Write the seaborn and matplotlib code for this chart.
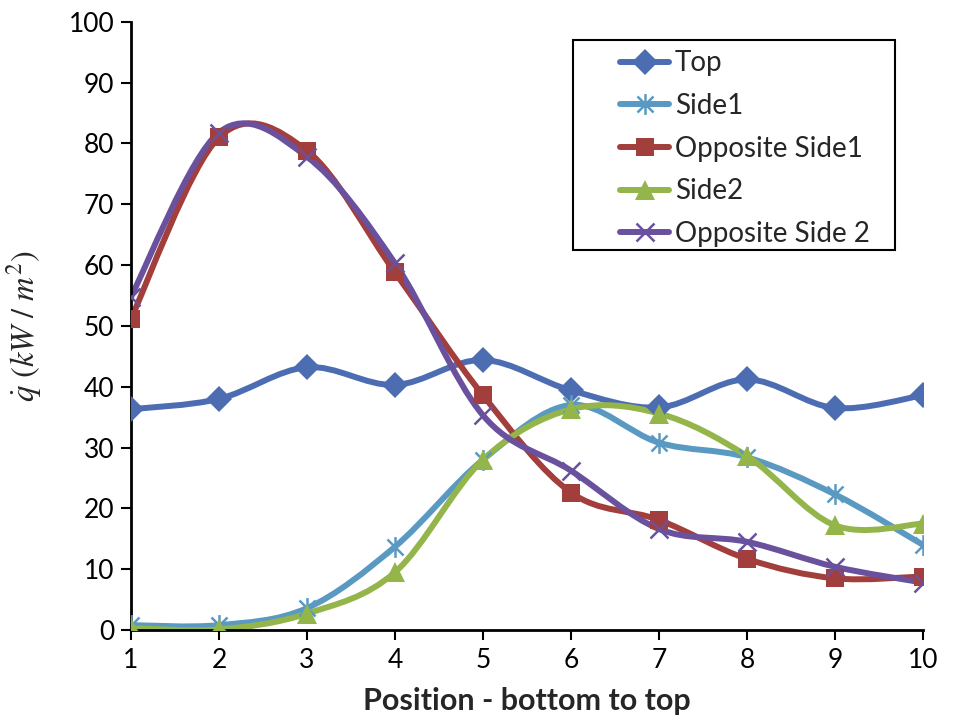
import numpy as np
import matplotlib
matplotlib.use('Agg')
import matplotlib.pyplot as plt
from matplotlib.path import Path
from matplotlib.patches import PathPatch, Rectangle
from matplotlib.lines import Line2D
import seaborn as sns

# Werte
positions = [1, 2, 3, 4, 5, 6, 7, 8, 9, 10]
top = [36.3, 38.0, 43.2, 40.3, 44.4, 39.4, 36.6, 41.2, 36.5, 38.6]
side1 = [0.8, 0.8, 3.6, 13.7, 28.0, 37.0, 30.8, 28.4, 22.3, 14.0]
opp_side1 = [51.2, 81.0, 78.8, 58.8, 38.6, 22.6, 18.1, 11.7, 8.5, 8.8]
side2 = [0.3, 0.1, 2.7, 9.5, 28.0, 36.3, 35.6, 28.6, 17.2, 17.5]
opp_side2 = [54.8, 81.8, 77.8, 60.3, 35.3, 26.2, 16.6, 14.5, 10.4, 7.8]
names = ['Top', 'Side1', 'Opposite Side1', 'Side2', 'Opposite Side 2']

# Sternchen-Marker wie in Excel (X mit senkrechtem Strich)
star = Path([(-1, -1), (1, 1), (-1, 1), (1, -1), (0, -1.3), (0, 1.3)],
            [Path.MOVETO, Path.LINETO, Path.MOVETO, Path.LINETO, Path.MOVETO, Path.LINETO])

series = [
    (top, '#4D6DB3', 'D', 13),
    (side1, '#5A9AC2', star, 15),
    (opp_side1, '#A23E3C', 's', 13),
    (side2, '#94B54A', '^', 14),
    (opp_side2, '#6A519E', 'x', 13),
]

sns.set_style('white')
plt.rcParams['font.family'] = ['Lato', 'DejaVu Sans']
plt.rcParams['mathtext.fontset'] = 'stix'

fig = plt.figure(figsize=(9.56, 7.25), dpi=100)
ax = fig.add_axes([0.137, 0.131, 0.8285, 0.8389])


def smooth_path(xs, ys):
    # Bezier-Glaettung wie Excel (Kontrollpunkte nach Catmull-Rom)
    p = np.column_stack([xs, ys]).astype(float)
    n = len(p)
    verts = [p[0]]
    codes = [Path.MOVETO]
    for i in range(n - 1):
        p0 = p[i - 1] if i > 0 else p[i]
        p3 = p[i + 2] if i + 2 < n else p[i + 1]
        c1 = p[i] + (p[i + 1] - p0) / 6
        c2 = p[i + 1] - (p3 - p[i]) / 6
        verts += [c1, c2, p[i + 1]]
        codes += [Path.CURVE4] * 3
    return Path(verts, codes)


handles = []
for (vals, col, mk, ms), name in zip(series, names):
    ax.add_patch(PathPatch(smooth_path(positions, vals), fill=False, edgecolor=col,
                           lw=4.3, capstyle='round', joinstyle='round', zorder=2))
    line_mk = mk in ('x',) or mk is star
    sns.lineplot(x=positions, y=vals, ax=ax, color=col, marker=mk, markersize=ms,
                 linestyle='', markeredgewidth=1.8 if line_mk else 0,
                 markeredgecolor=col, zorder=3)
    handles.append(Line2D([], [], color=col, lw=4.3, marker=mk, markersize=ms,
                          markeredgewidth=1.8 if line_mk else 0, markeredgecolor=col,
                          solid_capstyle='round'))

ax.set_xlim(1, 10)
ax.set_ylim(0, 100)
ax.set_xticks(positions)
ax.set_yticks(range(0, 101, 10))
ax.tick_params(axis='both', labelsize=19, direction='out', length=7, width=1.5,
               colors='black', left=True, bottom=True)
ax.tick_params(axis='x', pad=6)
ax.tick_params(axis='y', pad=5)
for s in ['top', 'right']:
    ax.spines[s].set_visible(False)
for s in ['left', 'bottom']:
    ax.spines[s].set_color('black')
    ax.spines[s].set_linewidth(2)

ax.set_xlabel('Position - bottom to top', fontsize=22, fontweight='bold', labelpad=10)
ax.set_ylabel(r'$\dot{q}\ (kW\ /\ m^2)$', fontsize=23.5)
ax.yaxis.set_label_coords(-0.11, 0.5)

# Legende ohne eigenen Rahmen, Rahmen separat (mehr Rand links wie im Original)
leg = ax.legend(handles, names, loc='upper left', bbox_to_anchor=(0.618, 0.953),
                fontsize=20, frameon=False, handlelength=1.75, borderpad=0,
                handletextpad=0.2, labelspacing=0.6, borderaxespad=0)
ax.add_patch(Rectangle((0.558, 0.625), 0.407, 0.345, transform=ax.transAxes,
                       fill=False, edgecolor='black', lw=1.5, zorder=5))

fig.savefig('out.png', dpi=100)
